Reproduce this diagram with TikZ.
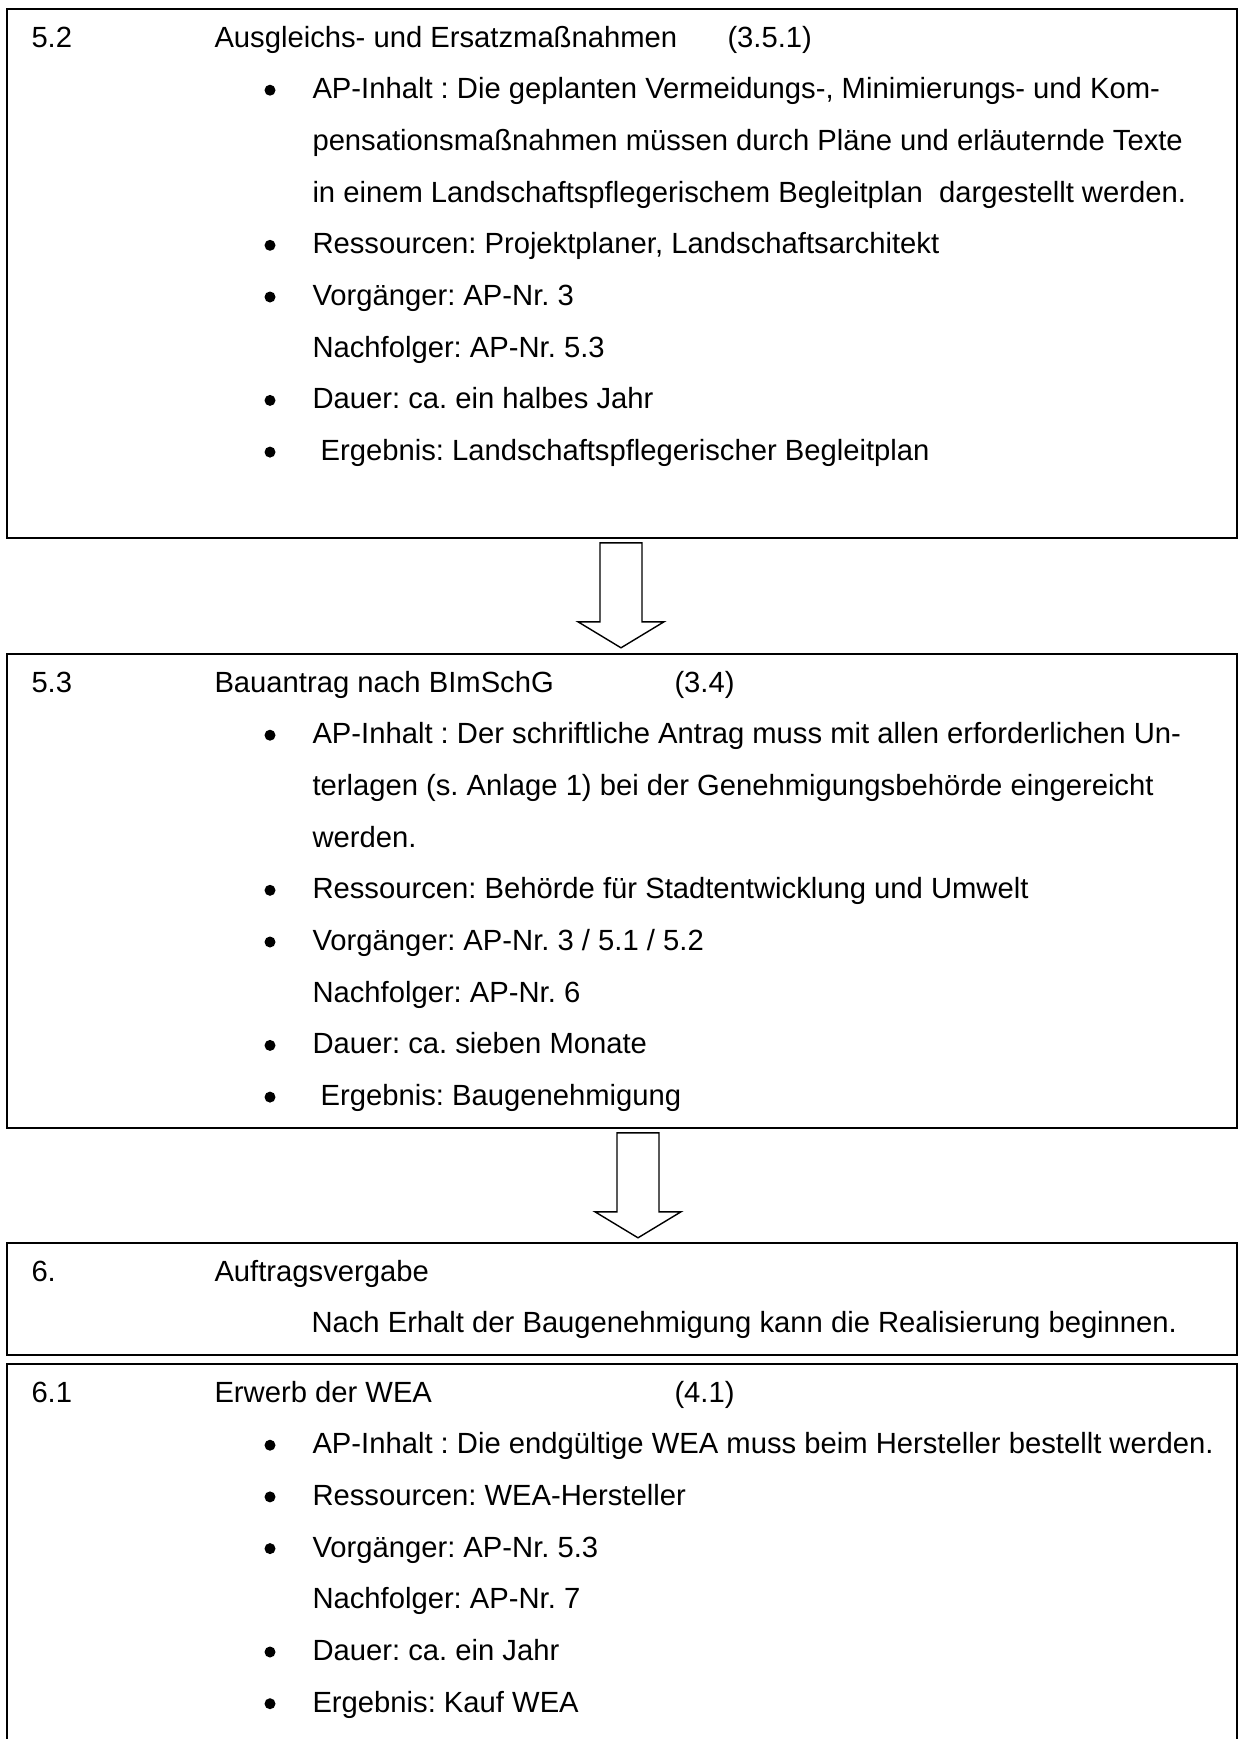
\documentclass[tikz,border=0pt]{standalone}
\usepackage{fontspec}
\setmainfont{Liberation Sans}[Ligatures={TeX,NoCommon}]
\usetikzlibrary{calc}

\newdimen\px \px=0.3937pt
\tikzset{
  kasten/.style={draw, line width=1.8\px, inner sep=0pt, anchor=north west, minimum width=1230\px},
  punkt/.style={circle, fill, inner sep=0pt, minimum size=11\px},
  pfeilstil/.style={draw, line width=1.4\px, fill=white, line join=miter},
}
% block arrow below a box: shaft x, box above
\newcommand\blockpfeil[2]{%
  \draw[pfeilstil] ($(#2.south -| #1,0)+(0,4)$) -- ++(0,79) -- ++(-22,0) -- ++(43,26)
    -- ++(43,-26) -- ++(-22,0) -- ++(0,-79) -- cycle;}

\begin{document}
\frenchspacing
\begin{tikzpicture}[x=\px, y=-\px, font=\fontsize{11.5}{14}\selectfont]
\useasboundingbox (0,0) rectangle (1239,1739);
\clip (0,0) rectangle (1239,1739);

 \node[kasten, minimum height=529\px] (ap52) at (6,8) {};
 \node[kasten, minimum height=474\px] (ap53) at (6,653) {};
 \node[kasten, minimum height=112\px] (ap6) at (6,1242) {};
 \node[kasten, minimum height=420\px] (ap61) at (6,1363) {};

 \blockpfeil{600}{ap52}
 \blockpfeil{617}{ap53}

 \begin{scope}[every node/.style={anchor=base west, inner sep=0pt}]
  % 5.2
  \node (nr52) at (31,47) {5.2};
  \node (t52) at (214,47) {Ausgleichs- und Ersatzmaßnahmen};
  \node (r52) at (727,47) {(3.5.1)};
  \foreach \y/\txt [count=\i] in {
     98.7/{AP-Inhalt : Die geplanten Vermeidungs-, Minimierungs- und Kom-},
     150.4/{pensationsmaßnahmen müssen durch Pläne und erläuternde Texte},
     202.1/{in einem Landschaftspflegerischem Begleitplan\ \ dargestellt werden.},
     253.8/{Ressourcen: Projektplaner, Landschaftsarchitekt},
     305.5/{Vorgänger: AP-Nr. 3},
     357.2/{Nachfolger: AP-Nr. 5.3},
     408.9/{Dauer: ca. ein halbes Jahr},
     460.6/{\ Ergebnis: Landschaftspflegerischer Begleitplan}}
    \node (z52-\i) at (312,\y) {\txt};
  % 5.3
  \node (nr53) at (31,692) {5.3};
  \node (t53) at (214,692) {Bauantrag nach BImSchG};
  \node (r53) at (674,692) {(3.4)};
  \foreach \y/\txt [count=\i] in {
     743.7/{AP-Inhalt : Der schriftliche Antrag muss mit allen erforderlichen Un-},
     795.4/{terlagen (s. Anlage 1) bei der Genehmigungsbehörde eingereicht},
     847.1/{werden.},
     898.8/{Ressourcen: Behörde für Stadtentwicklung und Umwelt},
     950.5/{Vorgänger: AP-Nr. 3 / 5.1 / 5.2},
     1002.2/{Nachfolger: AP-Nr. 6},
     1053.9/{Dauer: ca. sieben Monate},
     1105.6/{\ Ergebnis: Baugenehmigung}}
    \node (z53-\i) at (312,\y) {\txt};
  % 6.
  \node (nr6) at (31,1281) {6.};
  \node (t6) at (214,1281) {Auftragsvergabe};
  \node (z6) at (311,1332.7) {Nach Erhalt der Baugenehmigung kann die Realisierung beginnen.};
  % 6.1
  \node (nr61) at (31,1402) {6.1};
  \node (t61) at (214,1402) {Erwerb der WEA};
  \node (r61) at (674,1402) {(4.1)};
  \foreach \y/\txt [count=\i] in {
     1453.7/{AP-Inhalt : Die endgültige WEA muss beim Hersteller bestellt werden.},
     1505.4/{Ressourcen: WEA-Hersteller},
     1557.1/{Vorgänger: AP-Nr. 5.3},
     1608.8/{Nachfolger: AP-Nr. 7},
     1660.5/{Dauer: ca. ein Jahr},
     1712.2/{Ergebnis: Kauf WEA}}
    \node (z61-\i) at (312,\y) {\txt};
 \end{scope}

 % bullets
 \foreach \y [count=\i] in {98.7,253.8,305.5,408.9,460.6}
   \node[punkt] (p52-\i) at (270,\y-8.5) {};
 \foreach \y [count=\i] in {743.7,898.8,950.5,1053.9,1105.6}
   \node[punkt] (p53-\i) at (270,\y-8.5) {};
 \foreach \y [count=\i] in {1453.7,1505.4,1557.1,1660.5,1712.2}
   \node[punkt] (p61-\i) at (270,\y-8.5) {};
\end{tikzpicture}
\end{document}
